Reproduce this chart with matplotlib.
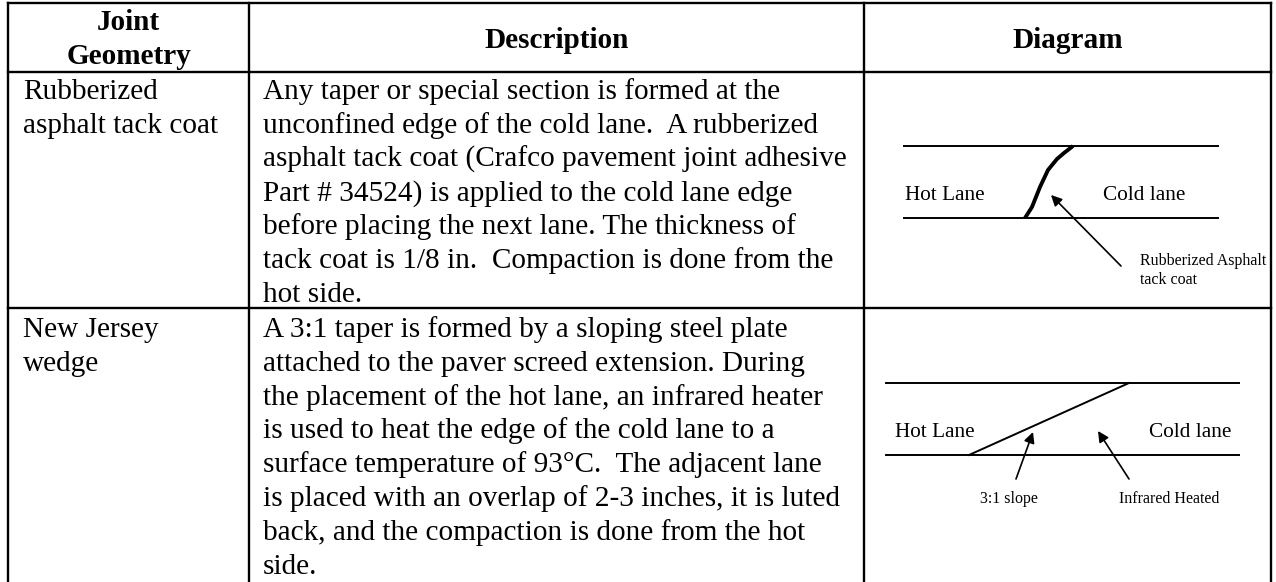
import matplotlib
matplotlib.use('Agg')
import matplotlib.pyplot as plt

W, H = 1276, 582

# table text
headers = [['Joint', 'Geometry'], ['Description'], ['Diagram']]
row_names = [['Rubberized', 'asphalt tack coat'], ['New Jersey', 'wedge']]
row_desc = [
    ['Any taper or special section is formed at the',
     'unconfined edge of the cold lane.  A rubberized',
     'asphalt tack coat (Crafco pavement joint adhesive',
     'Part # 34524) is applied to the cold lane edge',
     'before placing the next lane. The thickness of',
     'tack coat is 1/8 in.  Compaction is done from the',
     'hot side.'],
    ['A 3:1 taper is formed by a sloping steel plate',
     'attached to the paver screed extension. During',
     'the placement of the hot lane, an infrared heater',
     'is used to heat the edge of the cold lane to a',
     'surface temperature of 93°C.  The adjacent lane',
     'is placed with an overlap of 2-3 inches, it is luted',
     'back, and the compaction is done from the hot',
     'side.'],
]
row_first_line = [99, 337]

# grid positions, pixels (the table runs off the bottom, no closing line)
col_x = [8, 249, 864, 1271]
row_y = [3, 71.5, 308]

# taper curve of the top diagram
curve_x = [1025, 1032, 1040, 1048, 1057, 1064, 1073]
curve_y = [218, 207, 187, 170, 159, 153, 146]

plt.rcParams['font.family'] = ['Liberation Serif', 'DejaVu Serif']
fig = plt.figure(figsize=(W / 100, H / 100), dpi=100)
ax = fig.add_axes([0, 0, 1, 1])
ax.set_xlim(0, W)
ax.set_ylim(H, 0)
ax.axis('off')

# grid
for x in col_x:
    ax.plot([x, x], [row_y[0], H], color='black', lw=1.7, solid_capstyle='projecting')
for y in row_y:
    ax.plot([col_x[0], col_x[-1]], [y, y], color='black', lw=1.7, solid_capstyle='projecting')

# header
fs = 21.1
ax.text((col_x[0] + col_x[1]) / 2, 30, headers[0][0], ha='center', va='baseline', fontsize=fs, fontweight='bold')
ax.text((col_x[0] + col_x[1]) / 2, 63.5, headers[0][1], ha='center', va='baseline', fontsize=fs, fontweight='bold')
ax.text((col_x[1] + col_x[2]) / 2, 48, headers[1][0], ha='center', va='baseline', fontsize=fs, fontweight='bold')
ax.text((col_x[2] + col_x[3]) / 2, 48, headers[2][0], ha='center', va='baseline', fontsize=fs, fontweight='bold')

# body rows
line_h = 33.8
for names, desc, y0 in zip(row_names, row_desc, row_first_line):
    for i, line in enumerate(names):
        ax.text(23, y0 + i * line_h, line, ha='left', va='baseline', fontsize=fs)
    for i, line in enumerate(desc):
        ax.text(263, y0 + i * line_h, line, ha='left', va='baseline', fontsize=fs)


def arrow(x0, y0, x1, y1):
    ax.annotate('', xy=(x1, y1), xytext=(x0, y0),
                arrowprops=dict(arrowstyle='-|>', color='black', lw=1.2, mutation_scale=16, shrinkA=0, shrinkB=0))


# top diagram
ax.plot([904, 1218], [146, 146], color='black', lw=1.4)
ax.plot([904, 1218], [218, 218], color='black', lw=1.4)
ax.plot(curve_x, curve_y, color='black', lw=2.8, solid_capstyle='butt')
ax.text(905, 200, 'Hot Lane', ha='left', va='baseline', fontsize=15.3)
ax.text(1103, 200, 'Cold lane', ha='left', va='baseline', fontsize=15.3)
arrow(1121, 266, 1051, 195)
ax.text(1140, 265, 'Rubberized Asphalt', ha='left', va='baseline', fontsize=11.5)
ax.text(1140, 284, 'tack coat', ha='left', va='baseline', fontsize=11.5)

# bottom diagram
ax.plot([886, 1239], [383, 383], color='black', lw=1.4)
ax.plot([886, 1239], [455, 455], color='black', lw=1.4)
ax.plot([969, 1129], [455, 383], color='black', lw=1.4)
ax.text(895, 437, 'Hot Lane', ha='left', va='baseline', fontsize=15.3)
ax.text(1149, 437, 'Cold lane', ha='left', va='baseline', fontsize=15.3)
arrow(1016, 479, 1033, 432)
arrow(1129, 479, 1098, 431)
ax.text(980, 503, '3:1 slope', ha='left', va='baseline', fontsize=11.5)
ax.text(1119, 503, 'Infrared Heated', ha='left', va='baseline', fontsize=11.5)

fig.savefig('out.png', dpi=100, facecolor='white')
